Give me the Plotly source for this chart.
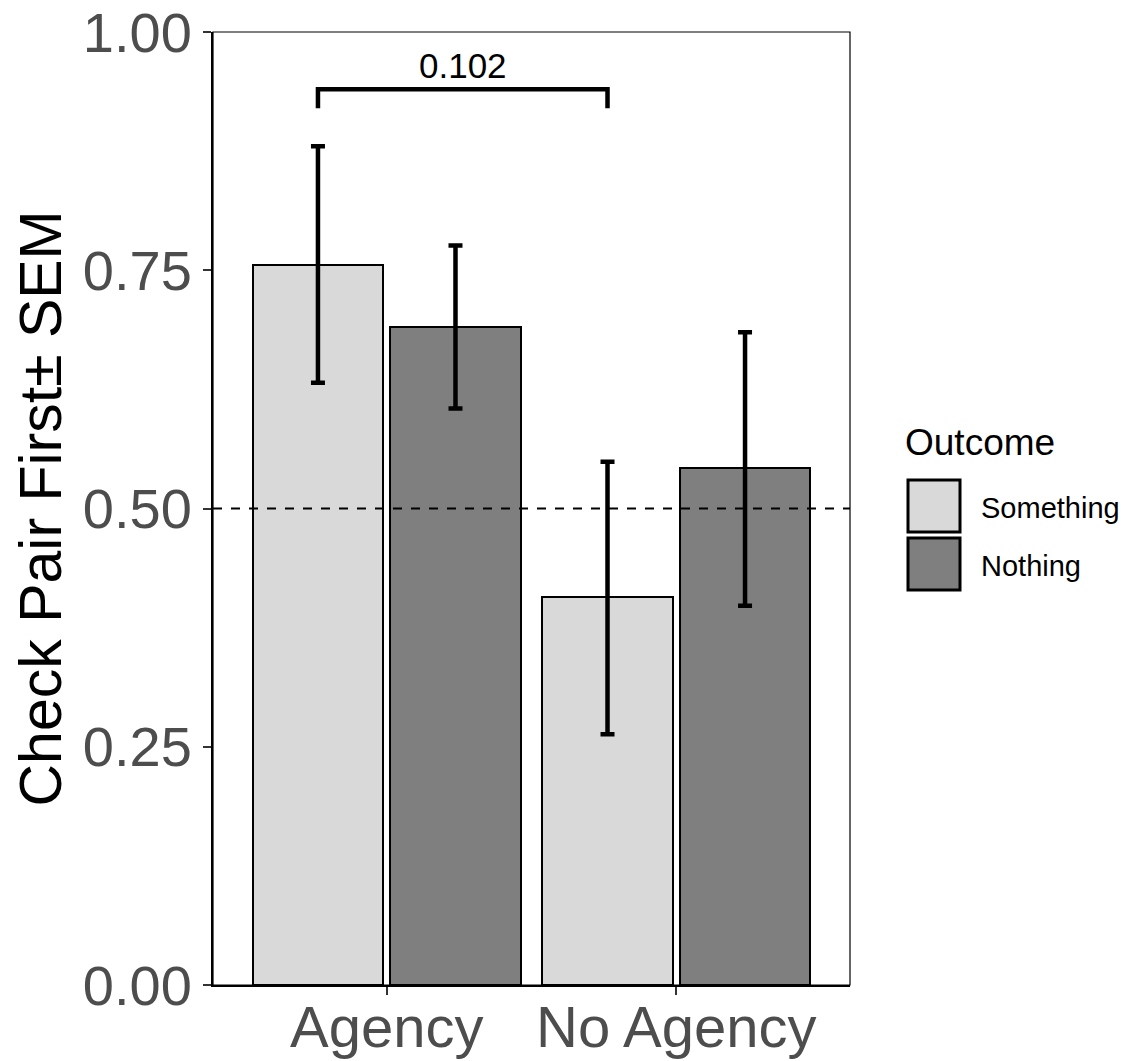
import plotly.graph_objects as go

groups = ["Agency", "No Agency"]
outcomes = ["Something", "Nothing"]
fills = {"Something": "#D9D9D9", "Nothing": "#7F7F7F"}
means = {"Something": [0.756, 0.407], "Nothing": [0.690, 0.542]}
sem_hi = {"Something": [0.880, 0.549], "Nothing": [0.776, 0.685]}
sem_lo = {"Something": [0.632, 0.263], "Nothing": [0.605, 0.398]}
p_label = "0.102"
bracket_y = 0.94
bracket_drop = 0.02

group_pos = [1, 2]
offsets = {"Something": -0.2375, "Nothing": 0.2375}
bar_width = 0.45

fig = go.Figure()
for o in outcomes:
    xs = [g + offsets[o] for g in group_pos]
    fig.add_trace(go.Bar(
        x=xs, y=means[o], width=bar_width, name=o,
        marker=dict(color=fills[o], line=dict(color="black", width=2)),
        error_y=dict(type="data", symmetric=False,
                     array=[h - m for h, m in zip(sem_hi[o], means[o])],
                     arrayminus=[m - l for m, l in zip(means[o], sem_lo[o])],
                     color="black", thickness=4.5, width=7),
        showlegend=False,
    ))

# reference line at 0.5
fig.add_shape(type="line", xref="paper", yref="y", x0=0, x1=1, y0=0.5, y1=0.5,
              line=dict(color="black", width=2, dash="dash"))

# significance bracket
bx0 = group_pos[0] + offsets["Something"]
bx1 = group_pos[1] + offsets["Something"]
fig.add_trace(go.Scatter(
    x=[bx0, bx0, bx1, bx1],
    y=[bracket_y - bracket_drop, bracket_y, bracket_y, bracket_y - bracket_drop],
    mode="lines", line=dict(color="black", width=4.5), showlegend=False,
    hoverinfo="skip"))
fig.add_annotation(x=(bx0 + bx1) / 2, y=bracket_y + 0.002, xref="x", yref="y",
                   text=p_label, showarrow=False, yanchor="bottom",
                   font=dict(size=35, color="black"))

# page offset compensation (browser body margin)
OFF = 8
L, T, R, B = 213, 32, 850, 985
W, H = R - L, B - T
def px(x): return (x - L) / W
def py(y): return (B - y) / H

fig.add_annotation(xref="paper", yref="paper", x=px(903), y=py(443), text="Outcome",
                   showarrow=False, xanchor="left", yanchor="middle",
                   font=dict(size=37, color="black"))
key_tops = [480, 538]
for o, top in zip(outcomes, key_tops):
    fig.add_shape(type="rect", xref="paper", yref="paper",
                  x0=px(908), x1=px(960), y0=py(top + 52), y1=py(top),
                  fillcolor=fills[o], line=dict(color="black", width=3))
    fig.add_annotation(xref="paper", yref="paper", x=px(979), y=py(top + 28), text=o,
                       showarrow=False, xanchor="left", yanchor="middle",
                       font=dict(size=29, color="black"))

# y-axis title
fig.add_annotation(xref="paper", yref="paper", x=px(40), y=0.5,
                   text="Check Pair First\u00b1 SEM", textangle=-90, showarrow=False,
                   xanchor="center", yanchor="middle",
                   font=dict(size=59, color="black"))

FW, FH = 1129 - OFF, 1061 - OFF
fig.update_layout(
    width=FW, height=FH,
    margin=dict(l=L - OFF, r=FW - (R - OFF), t=T - OFF, b=FH - (B - OFF)),
    plot_bgcolor="white", paper_bgcolor="white",
    font=dict(family="Liberation Sans, Arial, sans-serif"),
    bargap=0,
)
fig.update_xaxes(range=[0.4, 2.6], tickvals=group_pos, ticktext=groups,
                 ticks="outside", ticklen=8, tickwidth=1.5, tickcolor="#333333",
                 tickfont=dict(size=58, color="#4D4D4D"), ticklabelstandoff=-18,
                 ticklabeloverflow="allow",
                 showgrid=False, zeroline=False, automargin=False,
                 showline=True, linecolor="black", linewidth=2, mirror=False)
fig.update_yaxes(range=[0, 1], tickvals=[0, 0.25, 0.5, 0.75, 1.0],
                 ticktext=["0.00", "0.25", "0.50", "0.75", "1.00"],
                 ticks="outside", ticklen=8, tickwidth=1.5, tickcolor="#333333",
                 tickfont=dict(size=56, color="#4D4D4D"),
                 ticklabeloverflow="allow",
                 showgrid=False, zeroline=False, automargin=False,
                 showline=True, linecolor="black", linewidth=2)
# thin panel border
fig.add_shape(type="rect", xref="paper", yref="paper", x0=0, x1=1, y0=0, y1=1,
              line=dict(color="black", width=1.2), fillcolor="rgba(0,0,0,0)")

fig.write_html("out.html")
